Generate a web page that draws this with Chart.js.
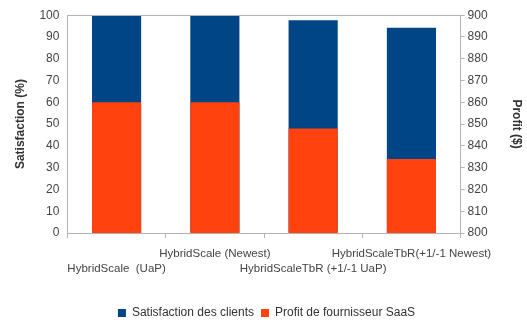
<!DOCTYPE html>
<html>
<head>
<meta charset="utf-8">
<script src="https://cdn.jsdelivr.net/npm/chart.js@4/dist/chart.umd.min.js"></script>
<style>
  html, body { margin: 0; padding: 0; background: #fff; }
  #wrap { width: 527px; height: 323px; }
</style>
</head>
<body>
<div id="wrap"><canvas id="chart" width="527" height="323"></canvas></div>
<script>
// categories shown on two staggered label rows
const categories = [
  ['', 'HybridScale  (UaP)'],
  ['HybridScale (Newest)', ''],
  ['', 'HybridScaleTbR (+1/-1 UaP)'],
  ['HybridScaleTbR(+1/-1 Newest)', '']
];
const satisfaction = [100, 100, 97.7, 94.2];   // %
const profit = [860, 860, 848, 834];            // $

const BLUE = '#004586';
const ORANGE = '#ff420e';
const AXIS = '#b3b3b3';
const TEXT = '#444';

// outline round the plot area
const frame = {
  id: 'frame',
  afterDraw(chart) {
    const { ctx, chartArea: a } = chart;
    ctx.save();
    ctx.strokeStyle = AXIS;
    ctx.lineWidth = 1;
    ctx.strokeRect(Math.round(a.left) + 0.5, Math.round(a.top) + 0.5,
      Math.round(a.right - a.left), Math.round(a.bottom - a.top));
    ctx.restore();
  }
};

Chart.defaults.font.family = '"Liberation Sans", Arial, sans-serif';
Chart.defaults.font.size = 12;
Chart.defaults.color = TEXT;

new Chart(document.getElementById('chart'), {
  type: 'bar',
  data: {
    labels: categories,
    datasets: [
      {
        label: 'Satisfaction des clients',
        data: satisfaction,
        backgroundColor: BLUE,
        yAxisID: 'y',
        order: 1
      },
      {
        label: 'Profit de fournisseur SaaS',
        data: profit,
        backgroundColor: ORANGE,
        yAxisID: 'y1',
        order: 0
      }
    ]
  },
  options: {
    responsive: false,
    animation: false,
    layout: { padding: { left: 6, right: 0, top: 8, bottom: -6 } },
    datasets: { bar: { grouped: false, barPercentage: 0.5, categoryPercentage: 1 } },
    plugins: {
      legend: {
        position: 'bottom',
        reverse: true,
        labels: { boxWidth: 8, boxHeight: 8, padding: 7, color: '#333', font: { size: 12 } }
      },
      tooltip: { enabled: false }
    },
    scales: {
      x: {
        grid: { display: true, drawOnChartArea: false, offset: true, tickLength: 5, color: AXIS },
        border: { color: AXIS },
        ticks: { maxRotation: 0, autoSkip: false, padding: 8, color: TEXT, font: { size: 11.5, lineHeight: 1.35 } },
        afterFit(scale) { scale.height = 67; }
      },
      y: {
        position: 'left',
        min: 0, max: 100,
        ticks: { stepSize: 10, padding: 8, color: TEXT, font: { size: 12 } },
        grid: { drawOnChartArea: false, drawTicks: false },
        border: { color: AXIS },
        title: { display: true, text: 'Satisfaction (%)', color: '#333', font: { size: 12, weight: 'bold' }, padding: { top: 7, bottom: 4 } }
      },
      y1: {
        position: 'right',
        min: 800, max: 900,
        ticks: { stepSize: 10, padding: 3, color: TEXT, font: { size: 12 } },
        grid: { drawOnChartArea: false, tickLength: 4, color: AXIS },
        border: { color: AXIS },
        title: { display: true, text: 'Profit ($)', color: '#333', font: { size: 12, weight: 'bold' }, padding: { top: 3, bottom: 19 } }
      }
    }
  },
  plugins: [frame]
});
</script>
</body>
</html>
